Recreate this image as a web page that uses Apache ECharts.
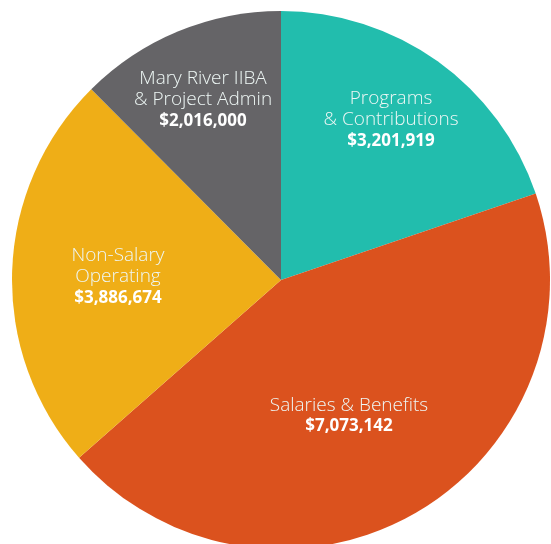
<!DOCTYPE html>
<html>
<head>
<meta charset="utf-8">
<script src="https://cdn.jsdelivr.net/npm/echarts@6/dist/echarts.min.js"></script>
<style>
  html, body { margin: 0; padding: 0; background: #fff; }
  #main { width: 551px; height: 544px; }
</style>
</head>
<body>
<div id="main"></div>
<script>
// budget slices, clockwise from 12 o'clock
var names = ['Programs\n& Contributions', 'Salaries & Benefits', 'Non-Salary\nOperating', 'Mary River IIBA\n& Project Admin']
var values = [3201919, 7073142, 3886674, 2016000]
var colors = ['#22bdad', '#db521e', '#efae17', '#656467']
// where each label block is centred
var labelPos = [[391, 120], [349, 416], [118, 277], [203, 100]]

function money(v) {
  return '$' + v.toString().replace(/\B(?=(\d{3})+(?!\d))/g, ',')
}

var myChart = echarts.init(document.getElementById('main'))
myChart.setOption({
  animation: false,
  series: [
    {
      type: 'pie',
      center: [281, 280],
      radius: 269,
      startAngle: 90,
      clockwise: true,
      itemStyle: { borderWidth: 0 },
      label: {
        show: true,
        position: 'inside',
        align: 'center',
        verticalAlign: 'middle',
        formatter: function (p) {
          var lines = p.name.split('\n').map(function (s) { return '{n|' + s + '}' })
          return lines.join('\n') + '\n{v|' + money(p.value) + '}'
        },
        rich: {
          n: { fontFamily: 'Open Sans', fontSize: 19, fontWeight: 300, color: '#eef7f5', lineHeight: 21, align: 'center' },
          v: { fontFamily: 'Open Sans', fontSize: 17, fontWeight: 'bold', color: '#ffffff', lineHeight: 21, align: 'center' }
        }
      },
      labelLine: { show: false },
      labelLayout: function (params) {
        var pos = labelPos[params.dataIndex]
        return { x: pos[0], y: pos[1] }
      },
      data: values.map(function (v, i) {
        return { name: names[i], value: v, itemStyle: { color: colors[i] } }
      })
    }
  ]
})
</script>
</body>
</html>
